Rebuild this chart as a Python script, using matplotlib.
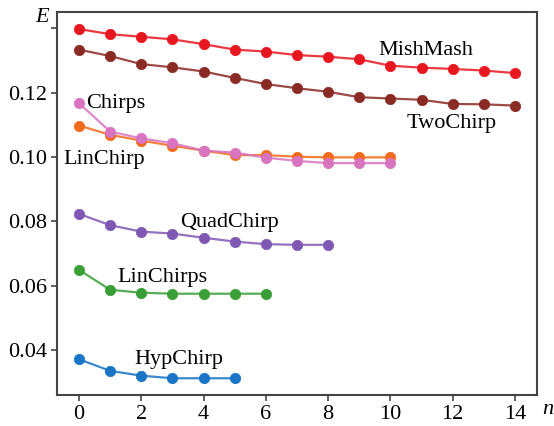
import matplotlib
matplotlib.use('Agg')
import matplotlib.pyplot as plt

# Iteration index n for each curve
n_mishmash = list(range(15))
n_twochirp = list(range(15))
n_chirps = list(range(11))
n_linchirp = list(range(11))
n_quadchirp = list(range(9))
n_linchirps = list(range(7))
n_hypchirp = list(range(6))

# Error values E
e_mishmash = [0.1398, 0.1382, 0.1374, 0.1366, 0.1351, 0.1334, 0.1328, 0.1317,
              0.1312, 0.1304, 0.1284, 0.1278, 0.1274, 0.1269, 0.1261]
e_twochirp = [0.1334, 0.1314, 0.1289, 0.1279, 0.1266, 0.1246, 0.1227, 0.1214,
              0.1203, 0.1186, 0.1182, 0.1178, 0.1165, 0.1164, 0.1160]
e_chirps = [0.1167, 0.1079, 0.1058, 0.1043, 0.1020, 0.1014, 0.0998, 0.0988,
            0.0981, 0.0981, 0.0981]
e_linchirp = [0.1098, 0.1069, 0.1051, 0.1035, 0.1020, 0.1006, 0.1006, 0.1001,
              0.0999, 0.0999, 0.0999]
e_quadchirp = [0.0823, 0.0788, 0.0768, 0.0762, 0.0749, 0.0737, 0.0729, 0.0727, 0.0727]
e_linchirps = [0.0649, 0.0587, 0.0578, 0.0575, 0.0575, 0.0575, 0.0575]
e_hypchirp = [0.0371, 0.0335, 0.0320, 0.0312, 0.0312, 0.0312]

y_ticks = [0.04, 0.06, 0.08, 0.10, 0.12, 0.14]
y_tick_labels = ['0.04', '0.06', '0.08', '0.10', '0.12', '']
x_ticks = [0, 2, 4, 6, 8, 10, 12, 14]

plt.rcParams['font.family'] = ['Liberation Serif', 'DejaVu Serif']
fs = 16

fig = plt.figure(figsize=(5.54, 4.26), dpi=100)
ax = fig.add_axes([0.1029, 0.0728, 0.8664, 0.899])

series = [
    (n_mishmash, e_mishmash, '#e8161f'),
    (n_twochirp, e_twochirp, '#8a2a24'),
    (n_linchirp, e_linchirp, '#f26b1d'),
    (n_chirps, e_chirps, '#d874c0'),
    (n_quadchirp, e_quadchirp, '#7f58b3'),
    (n_linchirps, e_linchirps, '#3a9e36'),
    (n_hypchirp, e_hypchirp, '#1874c4'),
]
for xs, ys, c in series:
    ax.plot(xs, ys, '-', color=c, lw=1.6, alpha=0.85)
    ax.plot(xs, ys, 'o', color=c, ms=7.5, mec=c, mew=0.5, alpha=1.0)

# Curve labels
ax.text(9.6, 0.1317, 'MishMash', fontsize=fs)
ax.text(10.53, 0.1091, 'TwoChirp', fontsize=fs)
ax.text(0.22, 0.1152, 'Chirps', fontsize=fs)
ax.text(-0.5, 0.0978, 'LinChirp', fontsize=fs)
ax.text(3.24, 0.0783, 'QuadChirp', fontsize=fs)
ax.text(1.23, 0.0612, 'LinChirps', fontsize=fs)
ax.text(1.77, 0.0356, 'HypChirp', fontsize=fs)

ax.set_xlim(-0.71, 14.71)
ax.set_ylim(0.026, 0.1451)
ax.set_xticks(x_ticks)
ax.set_yticks(y_ticks)
ax.set_yticklabels(y_tick_labels)
ax.tick_params(labelsize=fs, length=4, width=1.2, color='#444444', pad=3)

for s in ax.spines.values():
    s.set_color('#444444')
    s.set_linewidth(1.5)

# axis letters in the corners
fig.text(42 / 554, 1 - 18 / 426, 'E', fontsize=fs, style='italic', ha='center', va='center')
fig.text(548 / 554, 1 - 410 / 426, 'n', fontsize=fs, style='italic', ha='center', va='center')

plt.savefig('out.png', dpi=100)
